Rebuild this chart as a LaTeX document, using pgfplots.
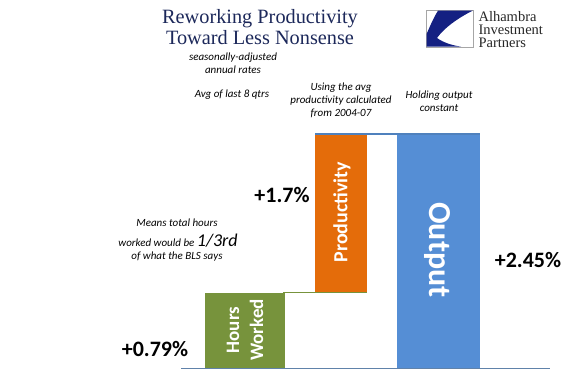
\documentclass[border=0pt]{standalone}
\usepackage{pgfplots}
\pgfplotsset{compat=1.18}
\usepackage{fontspec}
\setmainfont{Carlito}
\newfontfamily\titlefont{Liberation Serif}
\definecolor{hwc}{RGB}{119,147,60}
\definecolor{prodc}{RGB}{228,108,10}
\definecolor{outc}{RGB}{85,142,213}
\definecolor{linec}{RGB}{79,129,189}
\definecolor{axisc}{RGB}{96,130,170}
\definecolor{titlec}{RGB}{28,40,90}
\definecolor{navy}{RGB}{20,32,130}
\begin{document}
\begin{tikzpicture}
\useasboundingbox (0pt,0pt) rectangle (568pt,381pt);
\begin{axis}[at={(0,0)}, anchor=south west, scale only axis,
  width=568pt, height=381pt, xmin=0, xmax=568, ymin=-0.1361, ymax=3.8531,
  hide axis, clip=false]
% Hours worked (0.79)
\addplot[ybar, bar width=79, fill=hwc, draw=none] coordinates {(244.5,0.79)};
% Output (2.45)
\addplot[ybar, bar width=83, fill=outc, draw=none] coordinates {(438.5,2.45)};
% Productivity: floating from 0.79 to 2.45
\addplot[fill=prodc, draw=none] coordinates {(315,0.79) (367,0.79) (367,2.45) (315,2.45)} -- cycle;
% connectors
\addplot[hwc, line width=1.5pt] coordinates {(284,0) (284,0.79) (367,0.79)};
\addplot[linec, line width=1.5pt] coordinates {(315,2.45) (480,2.45)};
% baseline
\addplot[axisc, line width=1pt] coordinates {(181,0) (550,0)};
\end{axis}
\begin{scope}[x=1pt,y=-1pt,shift={(0pt,381pt)}]
% title
\node[font=\titlefont\fontsize{20.3}{21}\selectfont, text=titlec, align=center] at (260,27) {Reworking Productivity\\Toward Less Nonsense};
% annotations
\node[font=\itshape\fontsize{11}{13}\selectfont, align=center] at (233,63) {seasonally-adjusted\\annual rates};
\node[font=\itshape\fontsize{11}{13}\selectfont, align=center] at (232,95) {Avg of last 8 qtrs};
\node[font=\itshape\fontsize{11}{13}\selectfont, align=center] at (341,100) {Using the avg\\productivity calculated\\from 2004-07};
\node[font=\itshape\fontsize{11}{13.5}\selectfont, align=center] at (439,101) {Holding output\\constant};
\node[font=\itshape\fontsize{11}{12}\selectfont] at (177,223) {Means total hours};
\node[font=\itshape\fontsize{11}{12}\selectfont] at (178,241) {worked would be {\fontsize{18}{18}\selectfont 1/3rd}};
\node[font=\itshape\fontsize{11}{12}\selectfont] at (177,257) {of what the BLS says};
% values
\node[font=\bfseries\fontsize{22}{22}\selectfont] at (155,349) {+0.79\%};
\node[font=\bfseries\fontsize{22}{22}\selectfont] at (282,195) {+1.7\%};
\node[font=\bfseries\fontsize{22}{22}\selectfont] at (528,260) {+2.45\%};
% bar labels
\node[font=\bfseries\fontsize{19}{24}\selectfont, text=white, rotate=90, align=center] at (245,330) {Hours\\Worked};
\node[font=\bfseries\fontsize{20}{20}\selectfont, text=white, rotate=90] at (342,212) {Productivity};
\node[font=\bfseries\fontsize{32}{32}\selectfont, text=white, rotate=-90] at (437,250) {Output};
% logo
\draw[black!35, line width=0.6pt] (426,10) rectangle (473,47);
\fill[navy] (438,10.7) -- (472.6,10.7) .. controls (458,18) and (444,28) .. (437,38)
  .. controls (444,43) and (453,45.5) .. (461,46.6) -- (426.6,46.6) -- (426.6,34)
  .. controls (430,26) and (434,17) .. cycle;
\node[anchor=west, font=\titlefont\fontsize{14.5}{13}\selectfont, align=left, text=black!85] at (475,29.5) {Alhambra\\Investment\\Partners};
\end{scope}
\end{tikzpicture}
\end{document}
